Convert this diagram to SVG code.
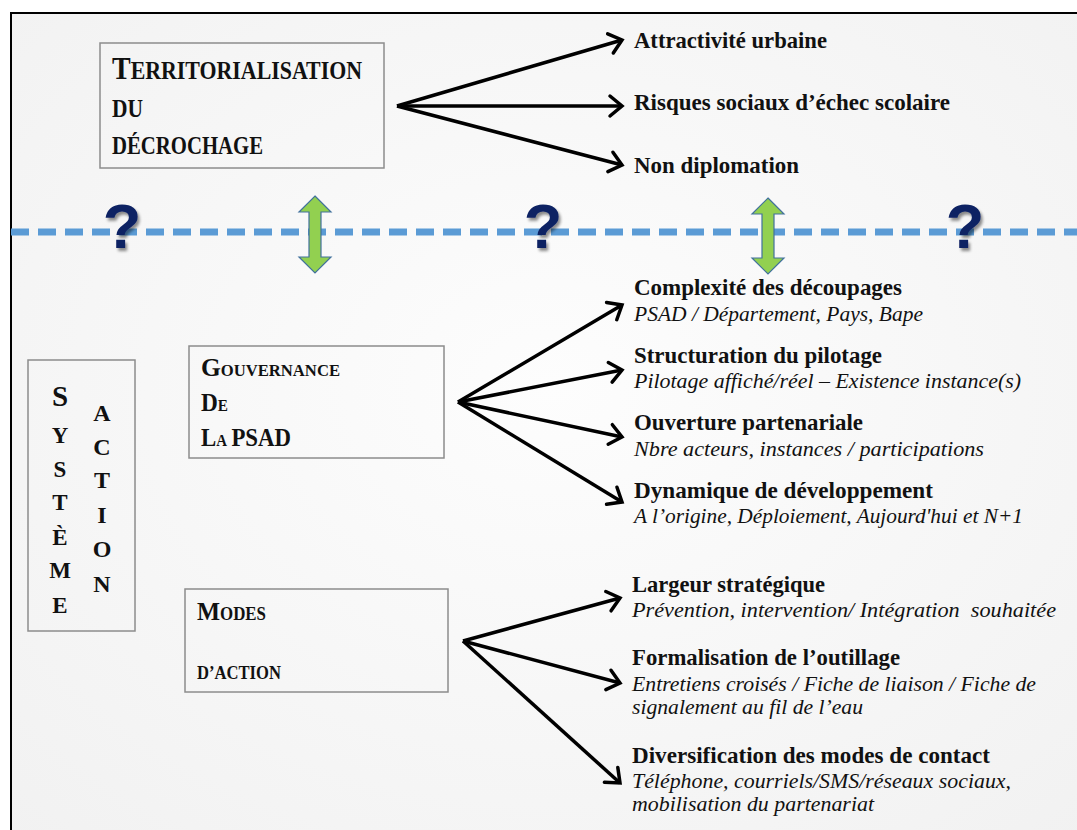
<svg xmlns="http://www.w3.org/2000/svg" width="1077" height="830" viewBox="0 0 1077 830">
  <defs>
    <radialGradient id="bg" cx="0.5" cy="0.45" r="0.75">
      <stop offset="0" stop-color="#fdfdfd"/>
      <stop offset="1" stop-color="#f1f1f1"/>
    </radialGradient>
    <marker id="chev" markerUnits="userSpaceOnUse" viewBox="-16 -14 20 28" refX="0" refY="0" markerWidth="20" markerHeight="28" orient="auto">
      <path d="M-12,-10 L0,0 L-12,10" fill="none" stroke="#000" stroke-width="3.5" stroke-linejoin="miter" stroke-linecap="round"/>
    </marker>
    <filter id="shadow" x="-30%" y="-30%" width="160%" height="160%">
      <feGaussianBlur in="SourceAlpha" stdDeviation="1.5"/>
      <feOffset dx="2" dy="3" result="off"/>
      <feComponentTransfer><feFuncA type="linear" slope="0.45"/></feComponentTransfer>
      <feMerge><feMergeNode/><feMergeNode in="SourceGraphic"/></feMerge>
    </filter>
  </defs>
  <style>
    .box { fill: none; stroke: #8c8c8c; stroke-width: 1.5; }
    .title { font-family: "Liberation Serif", "Times New Roman", serif; font-weight: bold; fill: #111; }
    .lbl { font-family: "Liberation Serif", "Times New Roman", serif; font-weight: bold; font-size: 23px; fill: #111; }
    .sub { font-family: "Liberation Serif", "Times New Roman", serif; font-style: italic; font-size: 21px; fill: #111; }
    .conn { stroke: #000; stroke-width: 3.5; fill: none; marker-end: url(#chev); }
    .q { font-family: "Liberation Sans", Arial, sans-serif; font-weight: bold; font-size: 63px; fill: #0f2464; }
    .dbl { fill: #92d050; stroke: #41719c; stroke-width: 1.2; }
  </style>

  <!-- page and frame -->
  <rect x="0" y="0" width="1077" height="830" fill="#ffffff"/>
  <rect x="11" y="13" width="1080" height="830" fill="url(#bg)"/>
  <path d="M11,845 L11,13 L1090,13" fill="none" stroke="#000" stroke-width="2"/>

  <!-- boundary line between territory and action system -->
  <g id="boundary">
    <line x1="11" y1="232" x2="1077" y2="232" stroke="#5b9bd5" stroke-width="7" stroke-dasharray="18 9"/>
    <text class="q" x="122" y="248" text-anchor="middle" filter="url(#shadow)">?</text>
    <text class="q" x="543" y="248" text-anchor="middle" filter="url(#shadow)">?</text>
    <text class="q" x="965" y="248" text-anchor="middle" filter="url(#shadow)">?</text>
    <polygon class="dbl" points="315,196 331,212 321,212 321,257 331,257 315,273 299,257 309,257 309,212 299,212"/>
    <polygon class="dbl" points="768,198 784,214 774,214 774,258 784,258 768,274 752,258 762,258 762,214 752,214"/>
  </g>

  <!-- connectors -->
  <g id="connectors">
    <line class="conn" x1="397" y1="106" x2="622" y2="40"/>
    <line class="conn" x1="397" y1="106" x2="622" y2="106"/>
    <line class="conn" x1="397" y1="106" x2="622" y2="165"/>
    <line class="conn" x1="458" y1="402" x2="622" y2="305"/>
    <line class="conn" x1="458" y1="402" x2="622" y2="370"/>
    <line class="conn" x1="458" y1="402" x2="622" y2="437"/>
    <line class="conn" x1="458" y1="402" x2="622" y2="502"/>
    <line class="conn" x1="463" y1="641" x2="620" y2="598"/>
    <line class="conn" x1="463" y1="641" x2="620" y2="683"/>
    <line class="conn" x1="463" y1="641" x2="620" y2="783"/>
  </g>

  <!-- source boxes -->
  <g id="node-territorialisation">
    <rect class="box" x="100" y="43" width="284" height="125"/>
    <text class="title" x="112" y="79" textLength="250" lengthAdjust="spacingAndGlyphs"><tspan font-size="32">T</tspan><tspan font-size="25">ERRITORIALISATION</tspan></text>
    <text class="title" x="112" y="117" font-size="25" textLength="31" lengthAdjust="spacingAndGlyphs">DU</text>
    <text class="title" x="112" y="154" font-size="25" textLength="151" lengthAdjust="spacingAndGlyphs">DÉCROCHAGE</text>
  </g>

  <g id="node-gouvernance">
    <rect class="box" x="189" y="346" width="255" height="112"/>
    <text class="title" x="201" y="376" textLength="139" lengthAdjust="spacingAndGlyphs"><tspan font-size="26">G</tspan><tspan font-size="17">OUVERNANCE</tspan></text>
    <text class="title" x="201" y="411" textLength="27" lengthAdjust="spacingAndGlyphs"><tspan font-size="26">D</tspan><tspan font-size="17">E</tspan></text>
    <text class="title" x="201" y="446" textLength="90" lengthAdjust="spacingAndGlyphs"><tspan font-size="26">L</tspan><tspan font-size="17">A</tspan><tspan font-size="26" dx="5">PSAD</tspan></text>
  </g>

  <g id="node-modes">
    <rect class="box" x="185" y="589" width="263" height="103"/>
    <text class="title" x="197" y="620" textLength="69" lengthAdjust="spacingAndGlyphs"><tspan font-size="26">M</tspan><tspan font-size="18">ODES</tspan></text>
    <text class="title" x="197" y="679" font-size="19" textLength="84" lengthAdjust="spacingAndGlyphs">D’ACTION</text>
  </g>

  <g id="node-systeme-action">
    <rect class="box" x="28" y="360" width="107" height="271"/>
    <g class="title" text-anchor="middle">
      <text x="60" y="406" font-size="29">S</text>
      <text x="60" y="443" font-size="23">Y</text>
      <text x="60" y="477" font-size="23">S</text>
      <text x="60" y="510" font-size="23">T</text>
      <text x="60" y="545" font-size="23">È</text>
      <text x="60" y="578" font-size="23">M</text>
      <text x="60" y="613" font-size="23">E</text>
      <text x="102" y="421" font-size="24">A</text>
      <text x="102" y="455" font-size="24">C</text>
      <text x="102" y="488" font-size="24">T</text>
      <text x="102" y="523" font-size="24">I</text>
      <text x="102" y="557" font-size="24">O</text>
      <text x="102" y="592" font-size="24">N</text>
    </g>
  </g>

  <!-- target labels -->
  <g id="node-attractivite">
    <text class="lbl" x="634" y="48" textLength="193" lengthAdjust="spacingAndGlyphs">Attractivité urbaine</text>
  </g>
  <g id="node-risques">
    <text class="lbl" x="634" y="110" textLength="316" lengthAdjust="spacingAndGlyphs">Risques sociaux d’échec scolaire</text>
  </g>
  <g id="node-diplomation">
    <text class="lbl" x="634" y="173" textLength="165" lengthAdjust="spacingAndGlyphs">Non diplomation</text>
  </g>

  <g id="node-complexite">
    <text class="lbl" x="634" y="295" textLength="268" lengthAdjust="spacingAndGlyphs">Complexité des découpages</text>
    <text class="sub" x="634" y="321" textLength="289" lengthAdjust="spacingAndGlyphs">PSAD / Département, Pays, Bape</text>
  </g>
  <g id="node-structuration">
    <text class="lbl" x="634" y="363" textLength="248" lengthAdjust="spacingAndGlyphs">Structuration du pilotage</text>
    <text class="sub" x="634" y="388" textLength="387" lengthAdjust="spacingAndGlyphs">Pilotage affiché/réel – Existence instance(s)</text>
  </g>
  <g id="node-ouverture">
    <text class="lbl" x="634" y="430" textLength="229" lengthAdjust="spacingAndGlyphs">Ouverture partenariale</text>
    <text class="sub" x="634" y="456" textLength="350" lengthAdjust="spacingAndGlyphs">Nbre acteurs, instances / participations</text>
  </g>
  <g id="node-dynamique">
    <text class="lbl" x="634" y="498" textLength="299" lengthAdjust="spacingAndGlyphs">Dynamique de développement</text>
    <text class="sub" x="634" y="523" textLength="389" lengthAdjust="spacingAndGlyphs">A l’origine, Déploiement, Aujourd'hui et N+1</text>
  </g>

  <g id="node-largeur">
    <text class="lbl" x="632" y="592" textLength="193" lengthAdjust="spacingAndGlyphs">Largeur stratégique</text>
    <text class="sub" x="632" y="617" textLength="424" lengthAdjust="spacingAndGlyphs" xml:space="preserve">Prévention, intervention/ Intégration  souhaitée</text>
  </g>
  <g id="node-formalisation">
    <text class="lbl" x="632" y="665" textLength="268" lengthAdjust="spacingAndGlyphs">Formalisation de l’outillage</text>
    <text class="sub" x="632" y="691" textLength="404" lengthAdjust="spacingAndGlyphs">Entretiens croisés / Fiche de liaison / Fiche de</text>
    <text class="sub" x="632" y="714" textLength="231" lengthAdjust="spacingAndGlyphs">signalement au fil de l’eau</text>
  </g>
  <g id="node-diversification">
    <text class="lbl" x="632" y="763" textLength="358" lengthAdjust="spacingAndGlyphs">Diversification des modes de contact</text>
    <text class="sub" x="632" y="788" textLength="379" lengthAdjust="spacingAndGlyphs">Téléphone, courriels/SMS/réseaux sociaux,</text>
    <text class="sub" x="632" y="811" textLength="242" lengthAdjust="spacingAndGlyphs">mobilisation du partenariat</text>
  </g>
</svg>
